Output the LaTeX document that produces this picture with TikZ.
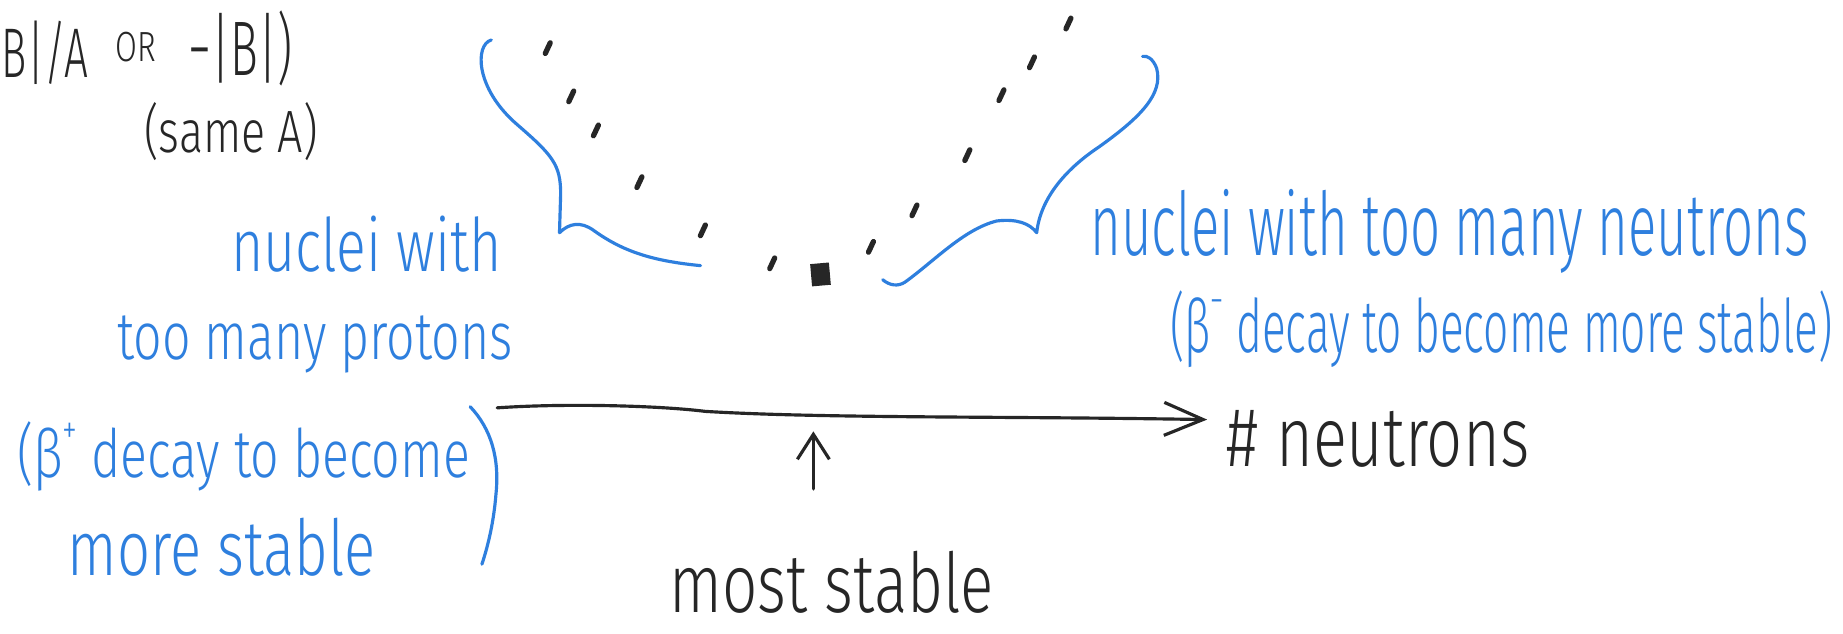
\documentclass[tikz,border=0pt]{standalone}
\usepackage{fontspec}
\usepackage{tikz}
\usetikzlibrary{arrows.meta,positioning}
\newfontfamily\handnarrow[FakeStretch=0.6]{Fira Sans Light}
\newfontfamily\handwide[FakeStretch=0.75]{Fira Sans Light}
\definecolor{inkblue}{HTML}{2E7FDE}
\definecolor{inkblack}{HTML}{262626}
\newcommand{\betasup}[1]{β\raisebox{0.5em}{\scalebox{0.6}{#1}}}
\tikzset{
  hand/.style={inner sep=0pt, anchor=base west},
  bluenote/.style={hand, text=inkblue},
  blacknote/.style={hand, text=inkblack},
  pen/.style={line width=0.9pt, line cap=round, line join=round},
  bracepen/.style={pen, draw=inkblue},
  axis/.style={pen, draw=inkblack, -{Straight Barb[length=3.9mm,width=3.3mm]}},
  pointer/.style={pen, draw=inkblack, -{Straight Barb[length=2.5mm,width=3.2mm]}},
  nucleus/.style={line width=1.5pt, line cap=round, draw=inkblack}
}

\begin{document}
\begin{tikzpicture}[x=0.11754mm, y=-0.11754mm]
\clip (0,0) rectangle (1568,539);
\fill[white] (0,0) rectangle (1568,539);

% formula
\node[blacknote, font=\handnarrow\fontsize{20}{20}\selectfont] (ratio) at (1,66) {B|/A};
\node[blacknote, font=\handwide\fontsize{12}{12}\selectfont] (orword) at (98,52) {OR};
\node[blacknote, font=\handnarrow\fontsize{22}{22}\selectfont] (absb) at (160,64) {−|B|)};
\node[blacknote, font=\handwide\fontsize{17}{17}\selectfont] (sameA) at (122,130) {(same A)};

% valley of nuclei
\foreach \px/\py in {466/41, 486/82, 507/111, 544/155, 598/196, 657/224,
                     741/210, 778/179, 823/132, 852/81, 878/53, 909/20}
  \draw[nucleus] (\px,\py) ++(-65:5) -- ++(115:10);
\fill[inkblack, rotate around={5:(698,233)}] (690,224) rectangle (706,243);

% braces
\draw[bracepen] (418,34) .. controls (404,38) and (404,75) .. (440,106)
  .. controls (470,132) and (477,140) .. (477,165) -- (476,198)
  .. controls (484,190) and (494,188) .. (505,196)
  .. controls (530,214) and (555,222) .. (596,226);
\draw[bracepen] (751,238) .. controls (757,243) and (764,244) .. (770,240)
  .. controls (795,222) and (820,195) .. (848,188)
  .. controls (865,186) and (876,190) .. (882,198)
  .. controls (885,170) and (905,145) .. (935,125)
  .. controls (970,100) and (990,80) .. (984,58)
  .. controls (981,50) and (976,47) .. (972,48);

% too many neutrons
\node[bluenote, font=\handnarrow\fontsize{25}{25}\selectfont] (rnuc) at (927,217) {nuclei with too many neutrons};
\node[bluenote, font=\handnarrow\fontsize{21}{21}\selectfont] (rbeta) at (995,300) {(\betasup{−} decay to become more stable)};

% too many protons
\node[bluenote, font=\handwide\fontsize{21}{21}\selectfont] (lnuc) at (196,231) {nuclei with};
\node[bluenote, font=\handwide\fontsize{19}{19}\selectfont] (lmany) at (99,306) {too many protons};
\node[bluenote, font=\handwide\fontsize{19}{19}\selectfont] (lbeta) at (14,406) {(\betasup{+} decay to become};
\node[bluenote, font=\handwide\fontsize{22}{22}\selectfont] (lmore) at (57,490) {more stable};
\draw[bracepen] (400,346) .. controls (418,365) and (425,390) .. (422,420)
  .. controls (420,445) and (415,465) .. (410,480);

% axis
\node[blacknote, font=\handwide\fontsize{24}{24}\selectfont] (neut) at (1043,397) {\# neutrons};
\coordinate (axstart) at (423,347);
\coordinate (axtip) at (1027,357);
\draw[axis] (axstart) .. controls (480,343) and (560,345) .. (600,350)
  .. controls (700,356) and (850,354) .. (axtip);

\node[blacknote, font=\handwide\fontsize{23.5}{23.5}\selectfont] (most) at (569,521) {most stable};
\coordinate (stabfoot) at (692,416);
\coordinate (stabtip) at (692,367);
\draw[pointer] (stabfoot) -- (stabtip);
\end{tikzpicture}
\end{document}
